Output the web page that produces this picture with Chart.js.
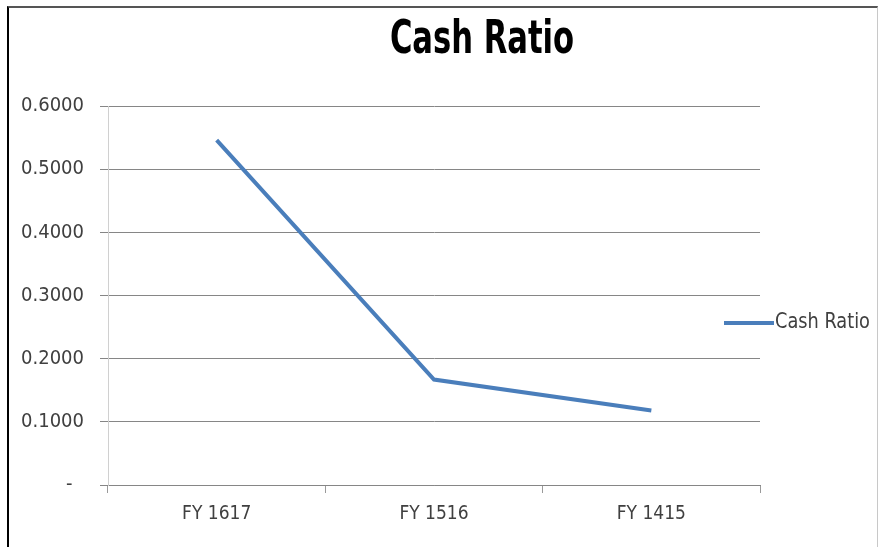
<!DOCTYPE html>
<html>
<head>
<meta charset="utf-8">
<script src="https://cdn.jsdelivr.net/npm/chart.js@4.4.0/dist/chart.umd.min.js"></script>
<style>
  html, body { margin: 0; padding: 0; background: #fff; }
  #wrap { position: relative; width: 880px; height: 547px; }
  #frame { position: absolute; left: 7px; top: 6px; width: 871px; height: 560px;
           border-left: 2px solid #000; border-top: 2px solid #555; border-right: 1px solid #c8c8c8;
           pointer-events: none; box-sizing: border-box; }
</style>
</head>
<body>
<div id="wrap">
  <canvas id="c" width="880" height="547"></canvas>
  <div id="frame"></div>
</div>
<script>
const categories = ['FY 1617', 'FY 1516', 'FY 1415'];
const seriesName = 'Cash Ratio';
const cashRatio = [0.546, 0.167, 0.118];
const yTicks = [0, 0.1, 0.2, 0.3, 0.4, 0.5, 0.6];

const FONT = "'DejaVu Sans Condensed', 'Liberation Sans', sans-serif";
const LINE_COLOR = '#4A7EBB';

const decorPlugin = {
  id: 'decor',
  afterDraw(chart) {
    const ctx = chart.ctx;
    const ds = chart.data.datasets[0];
    ctx.save();
    // title
    ctx.fillStyle = '#000';
    ctx.font = "bold 46px " + FONT;
    ctx.textAlign = 'center';
    ctx.textBaseline = 'alphabetic';
    ctx.translate(482, 53);
    ctx.scale(0.74, 1);
    ctx.fillText(seriesName, 0, 0);
    ctx.restore();
    // legend
    const y = 323;
    ctx.save();
    ctx.strokeStyle = ds.borderColor;
    ctx.lineWidth = 4;
    ctx.beginPath();
    ctx.moveTo(724, y);
    ctx.lineTo(774, y);
    ctx.stroke();
    ctx.fillStyle = '#404040';
    ctx.font = "21px " + FONT;
    ctx.textAlign = 'left';
    ctx.textBaseline = 'middle';
    ctx.translate(775, y);
    ctx.scale(0.94, 1);
    ctx.fillText(ds.label, 0, 0);
    ctx.restore();
  }
};

new Chart(document.getElementById('c'), {
  type: 'line',
  data: {
    labels: categories,
    datasets: [{
      label: seriesName,
      data: cashRatio,
      borderColor: LINE_COLOR,
      backgroundColor: LINE_COLOR,
      borderWidth: 4,
      pointRadius: 0,
      tension: 0,
      fill: false
    }]
  },
  options: {
    responsive: false,
    animation: false,
    layout: { padding: { left: 10, right: 120, top: 106, bottom: 0 } },
    plugins: {
      legend: { display: false },
      tooltip: { enabled: false },
      title: { display: false }
    },
    scales: {
      x: {
        offset: true,
        grid: { offset: true, drawOnChartArea: false, drawTicks: true, tickLength: 8, color: '#9a9a9a' },
        border: { display: true, color: '#868686', width: 1 },
        ticks: { color: '#404040', font: { family: FONT, size: 19 }, padding: 10, maxRotation: 0 },
        afterFit(scale) { scale.height = 62; }
      },
      y: {
        min: 0, max: 0.6,
        afterBuildTicks(scale) { scale.ticks = yTicks.map(v => ({ value: v })); },
        grid: { color: '#868686', lineWidth: 1, tickLength: 8, drawTicks: true },
        border: { display: true, color: '#d0d0d0', width: 1 },
        ticks: {
          color: '#404040',
          font: { family: FONT, size: 20 },
          padding: 16,
          callback: (v) => v === 0 ? '-  ' : Number(v).toFixed(4)
        },
        afterFit(scale) { scale.width = 98; }
      }
    }
  },
  plugins: [decorPlugin]
});
</script>
</body>
</html>
